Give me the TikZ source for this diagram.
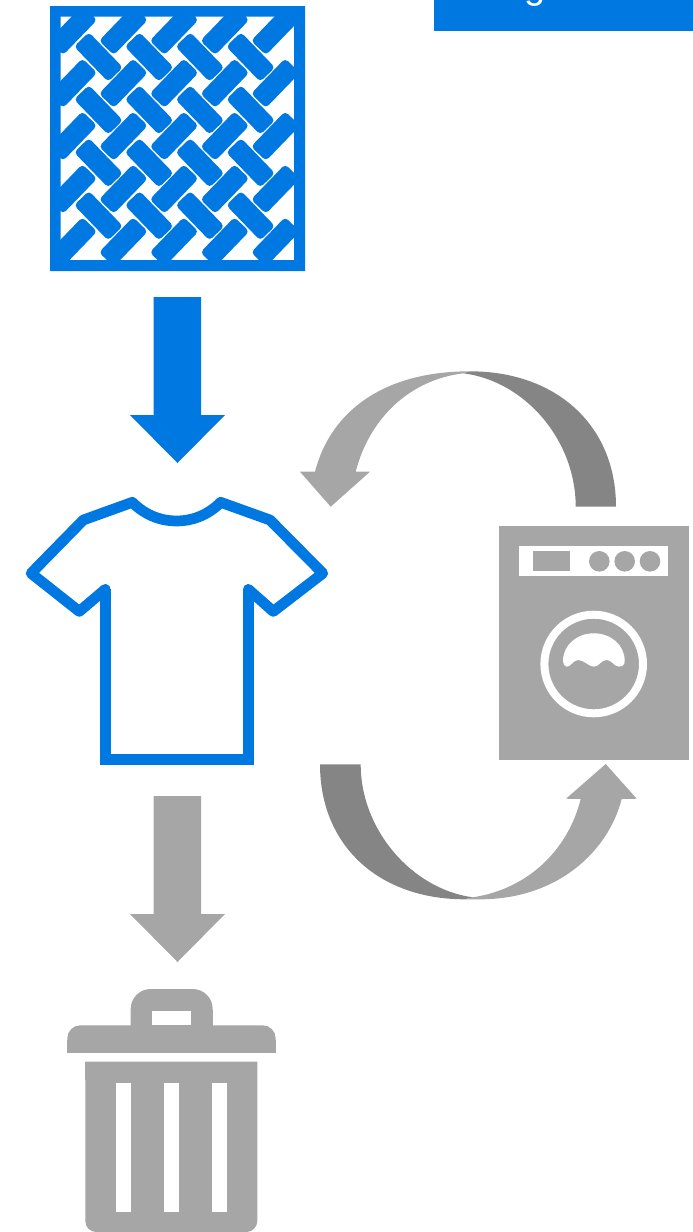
\documentclass[tikz,border=0pt]{standalone}
\usepackage{fontspec}
\setmainfont{Liberation Sans}
\definecolor{brandblue}{HTML}{0078E1}
\definecolor{icongray}{HTML}{A6A6A6}
\definecolor{bandgray}{HTML}{858585}

\begin{document}
\begin{tikzpicture}[
    x=1pt, y=-1pt,
    blue fill/.style={fill=brandblue},
    gray fill/.style={fill=icongray},
    band fill/.style={fill=bandgray},
    white fill/.style={fill=white},
    weave tile/.style={fill=brandblue, rounded corners=4pt},
    tee line/.style={draw=brandblue, line width=10.7pt}
]
\useasboundingbox (0,0) rectangle (693,1232);

% Bar cut off at the top edge
\fill[blue fill] (433.5,0) rectangle (693,30.5);
\begin{scope}
    \clip (433.5,0) rectangle (693,30.5);
    \node[anchor=base, inner sep=0pt, text=white, font=\fontsize{38}{38}\selectfont] (barletter) at (535,-2) {g};
\end{scope}

% Woven fabric
\begin{scope}
    \clip (50,6) rectangle (305,271);
    \foreach \col in {0,...,4} {
        \foreach \row in {0,...,4} {
            \fill[weave tile, shift={(72.7+50.7*\col,30.3+52.9*\row)}, rotate=46]
                (-24.5,-10.3) -- (24.5,-10.3) -- (24.5,10.3) -- (-24.5,10.3) -- cycle;
        }
    }
    \foreach \col in {0,...,3} {
        \foreach \row in {0,...,3} {
            \fill[weave tile, shift={(98.5+50.7*\col,57+52.9*\row)}, rotate=-46]
                (-24.5,-10.3) -- (24.5,-10.3) -- (24.5,10.3) -- (-24.5,10.3) -- cycle;
        }
    }
\end{scope}
\fill[blue fill, even odd rule] (50,6) rectangle (305,271) (60.7,16.7) rectangle (294,260);

% Straight arrows
\fill[blue fill] (153.5,297) -- (201,297) -- (201,415) -- (225,415) -- (177.5,463) -- (130,415) -- (153.5,415) -- cycle;
\fill[gray fill] (153.5,796) -- (201,796) -- (201,914) -- (225,914) -- (177.5,962) -- (130,914) -- (153.5,914) -- cycle;

% T-shirt
\draw[tee line, line join=round, line cap=round] (105.3,589.3) -- (79.3,611.4) -- (31.1,573.3) -- (83.3,520) -- (132.3,502.3)
    .. controls (146,516) and (162,521) .. (176.7,521)
    .. controls (191,521) and (207,516) .. (220.7,502.3)
    -- (270,520) -- (322.8,573.3) -- (273.3,611.4) -- (248.3,589.3);
\draw[tee line, line join=miter] (105.3,589.3) -- (105.3,759.7) -- (248.3,759.7) -- (248.3,589.3);

% Curved arrow, upper
\fill[band fill] (616,506.7) .. controls (616,425) and (556,371.3) .. (470,371.3) -- (463.3,373.3)
    .. controls (525,381) and (575.7,440) .. (575.7,506.7) -- cycle;
\fill[gray fill] (470,371.3) .. controls (385,371.3) and (331,410) .. (315,471.7) -- (300,471.7) -- (330.7,506.7)
    -- (370,471.7) -- (355.7,471.7) .. controls (369,420) and (408,380) .. (463.3,373.3) -- cycle;

% Curved arrow, lower
\fill[band fill] (320,764.3) .. controls (320,845) and (378,899.3) .. (465,899.3) -- (472.7,897.3)
    .. controls (412,889) and (360.7,830) .. (360.7,764.3) -- cycle;
\fill[gray fill] (465,899.3) -- (480,899.3) .. controls (557,899.3) and (608,852) .. (621.7,799) -- (636.7,798.7) -- (605.7,764)
    -- (566,798.7) -- (580.7,799) .. controls (568,850) and (528,889) .. (472.7,897.3) -- cycle;

% Washing machine
\fill[gray fill] (499,525.7) rectangle (688.7,760);
\fill[white fill] (519,546) rectangle (668.3,576.3);
\fill[gray fill] (532.7,551) rectangle (570,571);
\foreach \knobx in {599.3,624.7,650} {
    \fill[gray fill] (\knobx,561.3) circle (10.3);
}
\draw[white, line width=8pt] (593.7,664) circle (49.3);
\fill[white fill] (563,661) .. controls (563,645) and (577,633.3) .. (593.7,633.3)
    .. controls (611,633.3) and (624.7,645) .. (624.7,661)
    .. controls (624.7,665) and (622,667) .. (619,666.7)
    .. controls (614,666.5) and (612,660) .. (606.7,660)
    .. controls (601,660) and (599,666.7) .. (594,666.7)
    .. controls (589,666.7) and (584,660) .. (578.3,660)
    .. controls (573,660) and (571,666.7) .. (567,666.7)
    .. controls (564.5,666.7) and (563,664) .. (563,661) -- cycle;

% Trash can
\fill[gray fill, rounded corners=20pt] (130.7,1030) -- (130.7,989) -- (212.7,989) -- (212.7,1030);
\fill[gray fill] (130.7,1010) rectangle (212.7,1030);
\fill[white fill] (152,1011) rectangle (191,1025.3);
\fill[gray fill, rounded corners=13pt] (67.3,1052.7) -- (67.3,1025.3) -- (275.7,1025.3) -- (275.7,1052.7);
\fill[gray fill] (67.3,1040) rectangle (275.7,1052.7);
\fill[gray fill, rounded corners=11pt] (85.3,1061.7) -- (85.3,1232) -- (257.3,1232) -- (257.3,1061.7);
\fill[gray fill] (85.3,1061.7) rectangle (257.3,1080);
\foreach \slotx in {116,164.2,212.3} {
    \fill[white fill] (\slotx,1083.3) rectangle (\slotx+14.7,1212);
}

\end{tikzpicture}
\end{document}
